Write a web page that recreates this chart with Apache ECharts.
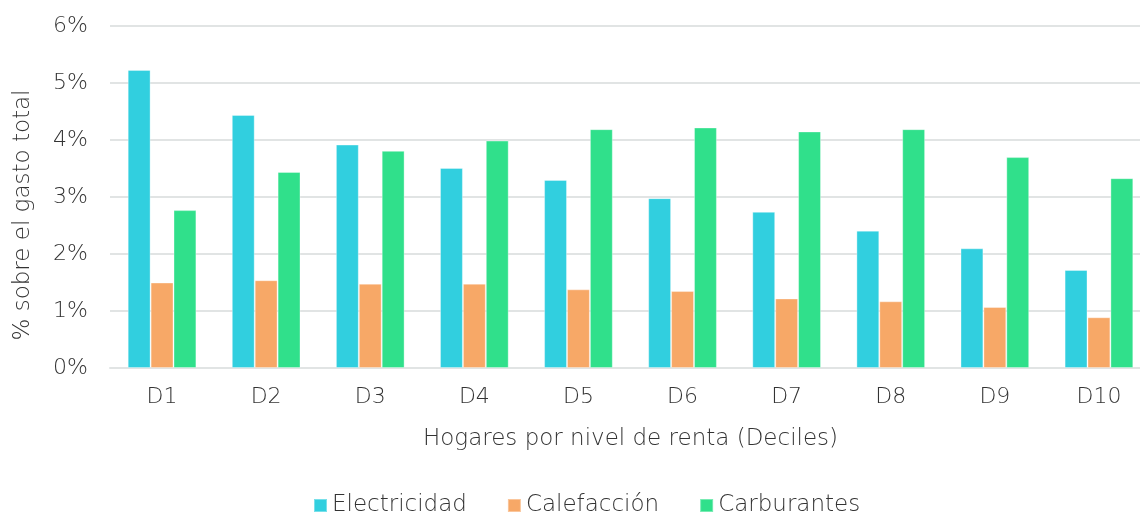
<!DOCTYPE html>
<html>
<head>
<meta charset="utf-8">
<script src="https://cdn.jsdelivr.net/npm/echarts@6/dist/echarts.min.js"></script>
<style>
html,body{margin:0;padding:0;background:#fff;}
#chart{width:1140px;height:513px;}
</style>
</head>
<body>
<div id="chart"></div>
<script>
const deciles = ['D1','D2','D3','D4','D5','D6','D7','D8','D9','D10'];
const electricidad = [5.23, 4.44, 3.92, 3.51, 3.30, 2.98, 2.74, 2.41, 2.10, 1.72];
const calefaccion = [1.50, 1.54, 1.48, 1.48, 1.38, 1.35, 1.22, 1.17, 1.07, 0.89];
const carburantes = [2.77, 3.44, 3.81, 3.99, 4.19, 4.22, 4.15, 4.19, 3.70, 3.33];

const font = 'DejaVu Sans';
const txt = '#333';

function serie(name, color, data){
    return {
        name: name,
        type: 'bar',
        barGap: '0%',
        barCategoryGap: '34%',
        itemStyle: {color: color, borderColor: 'rgba(255,255,255,0.35)', borderWidth: 1},
        data: data
    };
}

echarts.init(document.getElementById('chart')).setOption({
    animation: false,
    textStyle: {fontFamily: font, color: txt},
    legend: {
        top: 489,
        left: 308,
        itemWidth: 13,
        itemHeight: 13,
        itemGap: 40,
        icon: 'rect',
        textStyle: {fontFamily: font, fontSize: 23, color: txt, fontWeight: 200},
        data: ['Electricidad','Calefacción','Carburantes']
    },
    grid: {
        left: 110,
        top: 26,
        width: 1041,
        height: 342,
        outerBoundsMode: 'none'
    },
    xAxis: {
        type: 'category',
        data: deciles,
        name: 'Hogares por nivel de renta (Deciles)',
        nameLocation: 'middle',
        nameGap: 60,
        nameTextStyle: {fontSize: 23, color: txt, fontWeight: 200},
        axisTick: {show: false},
        axisLine: {lineStyle: {color: '#e1e4e4', width: 2}},
        axisLabel: {fontSize: 22, color: txt, margin: 18, fontWeight: 200}
    },
    yAxis: {
        type: 'value',
        min: 0,
        max: 6,
        interval: 1,
        name: '% sobre el gasto total',
        nameLocation: 'middle',
        nameGap: 75,
        nameTextStyle: {fontSize: 23, color: txt, fontWeight: 200, padding: [0, 36, 0, 0]},
        axisLabel: {fontSize: 22, color: txt, margin: 22, fontWeight: 200, formatter: '{value}%'},
        splitLine: {lineStyle: {color: '#e1e4e4', width: 2}}
    },
    series: [
        serie('Electricidad', '#31cfdf', electricidad),
        serie('Calefacción', '#f7a867', calefaccion),
        serie('Carburantes', '#30e08b', carburantes)
    ]
});
</script>
</body>
</html>
